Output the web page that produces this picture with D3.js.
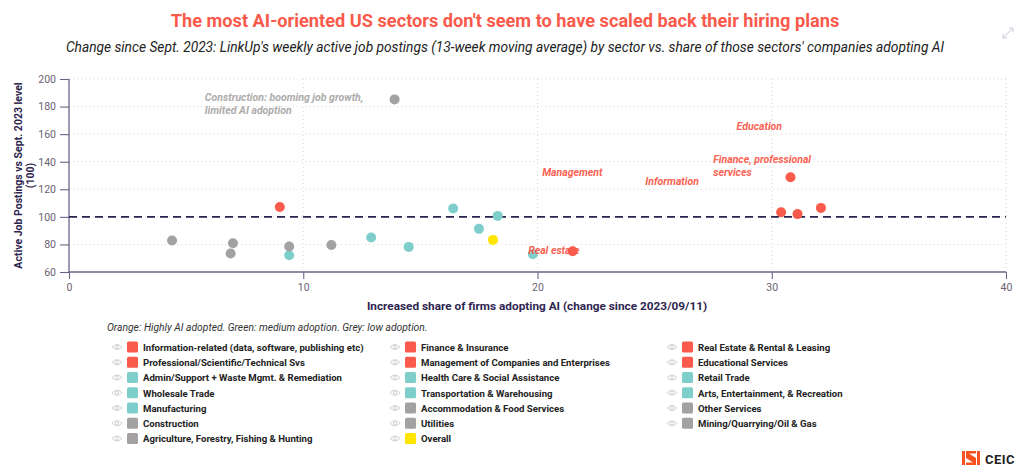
<!DOCTYPE html>
<html>
<head>
<meta charset="utf-8">
<script src="https://cdn.jsdelivr.net/npm/d3@7"></script>
<style>
  body { margin: 0; background: #fff; font-family: Roboto, "Noto Sans", sans-serif; }
  svg { display: block; }
</style>
</head>
<body>
<div id="chart"></div>
<script>
// sectors, in legend order (row by row, 3 per row)
const sectors = [
    "Information-related (data, software, publishing etc)", "Finance & Insurance", "Real Estate & Rental & Leasing",
    "Professional/Scientific/Technical Svs", "Management of Companies and Enterprises", "Educational Services",
    "Admin/Support + Waste Mgmt. & Remediation", "Health Care & Social Assistance", "Retail Trade",
    "Wholesale Trade", "Transportation & Warehousing", "Arts, Entertainment, & Recreation",
    "Manufacturing", "Accommodation & Food Services", "Other Services",
    "Construction", "Utilities", "Mining/Quarrying/Oil & Gas",
    "Agriculture, Forestry, Fishing & Hunting", "Overall"
];
// adoption group for each sector: high / medium / low / overall
const groups = [
    "high", "high", "high",
    "high", "high", "high",
    "medium", "medium", "medium",
    "medium", "medium", "medium",
    "medium", "low", "low",
    "low", "low", "low",
    "low", "overall"
];
// increased share of firms adopting AI (pp change since 2023/09/11)
const aiShare = [
    30.4, 30.8, 21.5,
    32.1, 9.0, 31.1,
    16.4, 17.5, 18.3,
    12.9, 14.5, 19.8,
    9.4, 6.9, 11.2,
    13.9, 4.4, 9.4,
    7.0, 18.1
];
// active job postings vs Sept. 2023 level (=100)
const postings = [
    103.4, 128.7, 75.0,
    106.5, 107.1, 102.0,
    106.1, 91.3, 100.7,
    85.0, 78.2, 72.9,
    72.1, 73.4, 79.6,
    185.2, 82.8, 78.5,
    80.9, 83.3
];
const xTicks = [0, 10, 20, 30, 40];
const yTicks = [60, 80, 100, 120, 140, 160, 180, 200];
const baseline = 100;

// text annotations placed in data coordinates
const annotations = [
    {lines: ["Construction: booming job growth,", "limited AI adoption"], x: 5.8, y: 184, color: "#a8a8a8"},
    {lines: ["Management"], x: 20.2, y: 130, color: "#fa5a4b"},
    {lines: ["Information"], x: 24.6, y: 123, color: "#fa5a4b"},
    {lines: ["Education"], x: 28.5, y: 163, color: "#fa5a4b"},
    {lines: ["Finance, professional", "services"], x: 27.5, y: 139, color: "#fa5a4b"},
    {lines: ["Real estate"], x: 19.6, y: 73, color: "#fa5a4b"}
];

const colors = {high: "#fa5a4b", medium: "#7ecfcc", low: "#a3a1a1", overall: "#ffe500"};
const axisColor = "#6e6387";
const titleColor = "#2e2550";

const W = 1024, H = 473;
const margin = {top: 79, right: 18, bottom: 201, left: 69};

const svg = d3.select("#chart").append("svg")
    .attr("width", W)
    .attr("height", H);

// title + subtitle
svg.append("text")
    .attr("x", 505).attr("y", 27)
    .attr("text-anchor", "middle")
    .style("font-size", "18.2px")
    .style("font-weight", "bold")
    .style("fill", "#fa5a4b")
    .text("The most AI-oriented US sectors don't seem to have scaled back their hiring plans");

svg.append("text")
    .attr("x", 505).attr("y", 52)
    .attr("text-anchor", "middle")
    .style("font-size", "13.75px")
    .style("font-style", "italic")
    .style("fill", "#222")
    .text("Change since Sept. 2023: LinkUp's weekly active job postings (13-week moving average) by sector vs. share of those sectors' companies adopting AI");

// little expand icon top right
const icon = svg.append("g").attr("transform", "translate(1008,33)")
    .attr("stroke", "#c8cbd6").attr("stroke-width", 1).attr("fill", "none");
icon.append("path").attr("d", "M-5,5 L5,-5 M1,-5 L5,-5 L5,-1 M-5,1 L-5,5 L-1,5");

const x = d3.scaleLinear()
    .domain([0, 40])
    .range([margin.left, W - margin.right]);

const y = d3.scaleLinear()
    .domain([60, 200])
    .range([H - margin.bottom, margin.top]);

// gridlines
const grid = svg.append("g").attr("class", "grid");
grid.selectAll(".vgrid")
    .data(xTicks.filter(d => d > 0))
    .enter().append("line")
    .attr("x1", d => x(d)).attr("x2", d => x(d))
    .attr("y1", y(60)).attr("y2", y(200))
    .attr("stroke", "#d9d9d9")
    .attr("stroke-dasharray", "1,3");
grid.selectAll(".hgrid")
    .data(yTicks.filter(d => d > 60))
    .enter().append("line")
    .attr("x1", x(0)).attr("x2", x(40))
    .attr("y1", d => y(d)).attr("y2", d => y(d))
    .attr("stroke", "#d9d9d9")
    .attr("stroke-dasharray", "1,3");

// axes
const xAxis = d3.axisBottom(x).tickValues(xTicks).tickSize(7).tickPadding(5);
const yAxis = d3.axisLeft(y).tickValues(yTicks).tickSize(9).tickPadding(4);

const gx = svg.append("g")
    .attr("transform", `translate(0,${y(60)})`)
    .call(xAxis);
const gy = svg.append("g")
    .attr("transform", `translate(${x(0)},0)`)
    .call(yAxis);

[gx, gy].forEach(g => {
    g.select(".domain").attr("stroke", axisColor).attr("stroke-width", 1.3);
    g.selectAll(".tick line").attr("stroke", axisColor).attr("stroke-width", 1.1);
    g.selectAll(".tick text")
        .style("font-family", "Roboto, sans-serif")
        .style("font-size", "10.5px")
        .style("fill", "#6a6272");
});
gx.select(".domain").attr("d", `M${x(0)},0H${x(40)}`);
gy.select(".domain").attr("d", `M0,${y(60)}V${y(200)}`);

// axis titles
svg.append("text")
    .attr("x", 537).attr("y", 310)
    .attr("text-anchor", "middle")
    .style("font-size", "11.8px")
    .style("font-weight", "bold")
    .style("fill", titleColor)
    .text("Increased share of firms adopting AI (change since 2023/09/11)");

const yTitle = svg.append("text")
    .attr("transform", `translate(22,${(y(60) + y(200)) / 2}) rotate(-90)`)
    .attr("text-anchor", "middle")
    .style("font-size", "10.5px")
    .style("font-weight", "bold")
    .style("fill", titleColor);
yTitle.append("tspan").attr("x", 0).attr("dy", 0).text("Active Job Postings vs Sept. 2023 level");
yTitle.append("tspan").attr("x", 0).attr("dy", 12).text("(100)");

// baseline at 100
svg.append("line")
    .attr("x1", x(0)).attr("x2", x(40))
    .attr("y1", y(baseline)).attr("y2", y(baseline))
    .attr("stroke", "#2a2350")
    .attr("stroke-width", 1.6)
    .attr("stroke-dasharray", "8,5");

// points
const points = sectors.map((name, i) => ({
    name: name,
    group: groups[i],
    share: aiShare[i],
    value: postings[i]
}));

svg.append("g").selectAll("circle")
    .data(points)
    .enter().append("circle")
    .attr("cx", d => x(d.share))
    .attr("cy", d => y(d.value))
    .attr("r", 5)
    .attr("fill", d => colors[d.group]);

// annotations
annotations.forEach(a => {
    const t = svg.append("text")
        .attr("x", x(a.x)).attr("y", y(a.y))
        .style("font-size", "10.5px")
        .style("font-weight", "bold")
        .style("font-style", "italic")
        .style("fill", a.color)
        .style("opacity", 0.95);
    a.lines.forEach((l, j) => {
        t.append("tspan").attr("x", x(a.x)).attr("dy", j === 0 ? 0 : 13).text(l);
    });
});

// legend note
svg.append("text")
    .attr("x", 107).attr("y", 331)
    .style("font-size", "10.3px")
    .style("font-style", "italic")
    .style("fill", "#333")
    .text("Orange: Highly AI adopted. Green: medium adoption. Grey: low adoption.");

// legend
const colX = [117, 395, 672];
const rowY0 = 347, rowH = 15.25;

const legend = svg.append("g").attr("class", "legend")
    .selectAll("g")
    .data(points)
    .enter().append("g")
    .attr("transform", (d, i) => `translate(${colX[i % 3]},${rowY0 + Math.floor(i / 3) * rowH})`);

// eye icon
legend.append("path")
    .attr("d", "M-5,0 Q0,-5 5,0 Q0,5 -5,0 Z")
    .attr("fill", "none")
    .attr("stroke", "#d2d2d6")
    .attr("stroke-width", 1);
legend.append("circle")
    .attr("r", 1.6)
    .attr("fill", "none")
    .attr("stroke", "#d2d2d6")
    .attr("stroke-width", 1);

legend.append("rect")
    .attr("x", 10).attr("y", -5.5)
    .attr("width", 11).attr("height", 11)
    .attr("rx", 1.5)
    .attr("fill", d => colors[d.group]);

legend.append("text")
    .attr("x", 26).attr("y", 3.8)
    .style("font-size", "9.6px")
    .style("font-weight", "bold")
    .style("fill", "#222")
    .text(d => d.name);

// CEIC logo
const logo = svg.append("g").attr("transform", "translate(962,451)");
logo.append("path")
    .attr("d", "M0,0 H3 V14 H0 Z M15,0 H18 V14 H15 Z M4,0 H14 V2.5 H7 L14,7 V14 H4 V11.5 H11 L4,7 Z")
    .attr("fill", "#f5521f");
logo.append("text")
    .attr("x", 23).attr("y", 12.5)
    .style("font-size", "13px")
    .style("font-weight", "bold")
    .style("fill", "#222")
    .style("letter-spacing", "0.5px")
    .text("CEIC");
</script>
</body>
</html>
